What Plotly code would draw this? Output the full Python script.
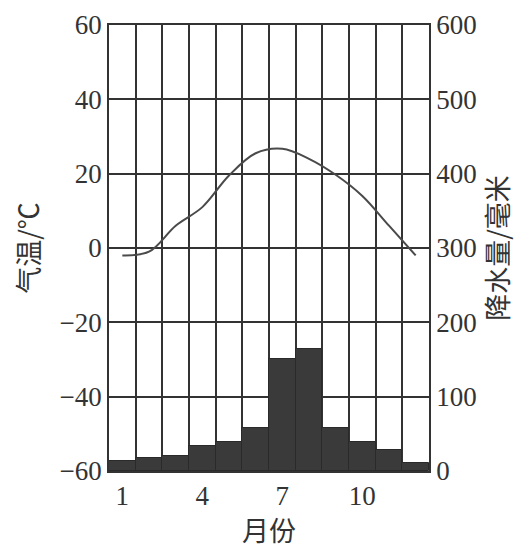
import plotly.graph_objects as go

# 月份、气温(℃)、降水量(毫米)
months = [1, 2, 3, 4, 5, 6, 7, 8, 9, 10, 11, 12]
temperature = [-2, -1, 6, 11, 19.5, 25.5, 26.7, 24, 19.7, 14, 6, -2]
precipitation = [13, 17, 20, 34, 39, 58, 151, 164, 58, 39, 28, 11]
month_ticks = [1, 4, 7, 10]

line_color = '#333333'
num_font = 'Liberation Serif'
cjk_font = 'Noto Sans CJK SC'

fig = go.Figure()

# 降水量柱状图（次坐标轴）
fig.add_trace(go.Bar(
    x=months,
    y=precipitation,
    yaxis='y2',
    width=1,
    marker=dict(color='#3a3a3a', line=dict(color='#2a2a2a', width=1)),
    showlegend=False
))

# 气温曲线
fig.add_trace(go.Scatter(
    x=months,
    y=temperature,
    mode='lines',
    line=dict(color='#4a4a4a', width=2, shape='spline', smoothing=1.0),
    showlegend=False
))

# 页面 body 有 8px 边距，所以图本身缩小一点
fig.update_layout(
    width=514,
    height=541,
    autosize=False,
    margin=dict(l=101, r=93, t=17, b=78, autoexpand=False),
    paper_bgcolor='white',
    plot_bgcolor='white',
    font=dict(family=num_font, size=27, color='#333333'),
    xaxis=dict(
        range=[0.5, 12.5],
        tickvals=month_ticks,
        ticktext=[str(m) for m in month_ticks],
        automargin=False,
        showgrid=False,
        zeroline=False,
        showline=True,
        mirror=True,
        linecolor=line_color,
        linewidth=1.5,
        ticks='',
        minor=dict(tick0=0.5, dtick=1, showgrid=True,
                   gridcolor=line_color, gridwidth=1.5, ticks=''),
        title=dict(text='月份', font=dict(family=cjk_font, size=27), standoff=2),
    ),
    yaxis=dict(
        range=[-60, 60],
        dtick=20,
        automargin=False,
        ticklabeloverflow='allow',
        showgrid=True,
        gridcolor=line_color,
        gridwidth=1.5,
        zeroline=False,
        showline=True,
        linecolor=line_color,
        linewidth=1.5,
        ticks='',
        title=dict(text='气温/℃', font=dict(family=cjk_font, size=27), standoff=14),
    ),
    yaxis2=dict(
        range=[0, 600],
        dtick=100,
        overlaying='y',
        side='right',
        automargin=False,
        ticklabeloverflow='allow',
        showgrid=False,
        zeroline=False,
        showline=True,
        linecolor=line_color,
        linewidth=1.5,
        ticks='',
        title=dict(text='降水量/毫米', font=dict(family=cjk_font, size=27), standoff=4),
    ),
    bargap=0,
)

fig.write_html("out.html")
